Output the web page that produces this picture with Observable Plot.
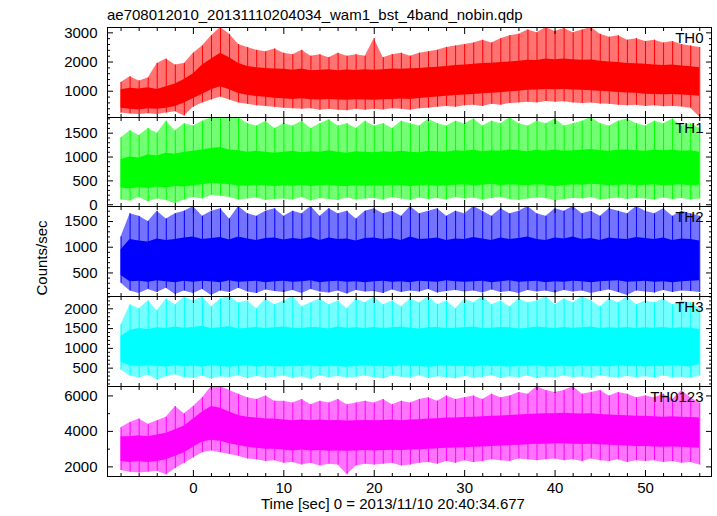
<!DOCTYPE html>
<html><head><meta charset="utf-8">
<script src="https://cdn.jsdelivr.net/npm/d3@7"></script>
<script src="https://cdn.jsdelivr.net/npm/@observablehq/plot@0.6"></script>
<style>
body{margin:0;background:#fff;}
#chart{position:relative;width:717px;height:516px;overflow:hidden;font-family:'Liberation Sans',Arial,Helvetica,sans-serif;color:#000;}
#chart svg{position:absolute;left:0;overflow:visible;}
.lbl{position:absolute;font-size:15px;line-height:13px;white-space:nowrap;}
</style></head><body>
<div id="chart"></div>
<script>
const title = "ae708012010_20131110204034_wam1_bst_4band_nobin.qdp";
const xLabel = "Time [sec] 0 = 2013/11/10 20:40:34.677";
const yLabel = "Counts/sec";
const panelNames = ["TH0","TH1","TH2","TH3","TH0123"];
const panelColors = ["#ff0000","#00ff00","#0000ff","#00ffff","#ff00ff"];
const xTickLabels = [0,10,20,30,40,50];
const yTickLabels = [[1000,2000,3000],[0,500,1000,1500],[500,1000,1500],[500,1000,1500,2000],[2000,4000,6000]];

const time = [-8,-7,-6,-5,-4,-3,-2,-1,0,1,2,3,4,5,6,7,8,9,10,11,12,13,14,15,16,17,18,19,20,21,22,23,24,25,26,27,28,29,30,31,32,33,34,35,36,37,38,39,40,41,42,43,44,45,46,47,48,49,50,51,52,53,54,55,56];

// per 1 s: spike max (hi), dense-band top, dense-band bottom, spike min (lo), counts/sec
const hi0 = [1300,1500,1350,1450,1950,2100,1900,1950, 2300,2550,2900,3180,2950,2600,2500,2400,2350,2450, 2300,2250,2400,2200,2250,2150,2300,2200,2250,2200, 2800,2150,2250,2300,2200,2300,2350,2400,2500,2550, 2600,2650,2750,2650,2800,2900,2950,3100,3000,3180, 3050,3150,3000,3100,3180,2950,2850,2900,2750,2800, 2700,2750,2650,2700,2600,2550,2500];
const top0 = [1050,1100,1080,1120,1060,1150,1250,1400, 1600,1900,2100,2300,2150,1950,1850,1800,1780,1760, 1750,1720,1760,1700,1720,1740,1700,1730,1710,1740, 1720,1740,1760,1750,1770,1780,1800,1820,1850,1880, 1900,1920,1950,1960,1980,2000,2030,2060,2050,2100, 2080,2100,2080,2060,2070,2030,2000,1980,1950,1940, 1920,1900,1880,1900,1860,1840,1800];
const bot0 = [420,380,360,400,380,420,480,600, 750,900,1050,1150,1050,920,860,820,790,760, 740,720,740,710,700,720,700,690,710,700, 690,710,720,730,720,750,780,800,830,850, 870,890,910,930,950,980,1000,1030,1040,1060, 1050,1060,1040,1030,1020,1000,980,960,940,930, 900,890,880,890,870,850,830];
const lo0 = [250,220,200,230,200,250,300,150, 450,600,700,800,700,600,550,500,480,450, 420,400,380,400,350,380,350,330,380,350, 380,360,400,380,350,400,420,450,480,450, 500,520,480,550,520,580,600,620,600,650, 620,640,600,580,600,560,550,520,500,520, 480,500,470,480,460,420,120];

const hi1 = [1400,1550,1450,1600,1500,1750,1550,1700, 1650,1750,1830,1830,1800,1830,1700,1650,1750,1600, 1700,1650,1750,1600,1700,1780,1650,1700,1600,1750, 1650,1700,1600,1750,1700,1650,1800,1700,1650,1750, 1700,1800,1650,1750,1700,1830,1700,1650,1750,1700, 1800,1650,1700,1750,1830,1700,1650,1750,1800,1700, 1650,1750,1700,1800,1650,1700,1600];
const top1 = [950,1000,980,1050,1020,1080,1060,1100, 1120,1150,1180,1200,1150,1130,1100,1120,1100,1080, 1100,1120,1090,1110,1100,1130,1100,1080,1110,1100, 1090,1110,1100,1120,1100,1090,1120,1110,1100,1130, 1120,1140,1110,1130,1120,1150,1130,1110,1140,1120, 1150,1120,1130,1140,1160,1130,1120,1140,1150,1130, 1120,1140,1130,1150,1120,1130,1100];
const bot1 = [350,330,360,340,370,350,380,370, 400,420,450,440,420,400,390,410,400,380, 400,390,410,380,400,410,390,380,400,390, 400,390,410,400,380,400,410,390,400,410, 420,400,410,430,400,420,410,400,420,410, 380,400,420,410,430,420,400,410,420,400, 410,420,400,410,420,400,410];
const lo1 = [100,80,150,60,120,90,20,100, 150,120,200,180,150,100,120,140,90,110, 120,100,150,80,130,110,90,140,100,120, 130,100,150,120,90,140,110,130,100,150, 120,140,100,130,150,110,90,120,140,130, 80,110,130,120,150,100,120,140,110,130, 120,100,140,110,130,100,120];

const hi2 = [1200,1650,1600,1500,1700,1550,1650,1700, 1790,1600,1700,1750,1550,1790,1650,1600,1700,1750, 1600,1700,1650,1790,1600,1750,1650,1700,1550,1700, 1750,1650,1700,1600,1790,1650,1700,1750,1600,1700, 1650,1790,1700,1600,1750,1650,1700,1790,1650,1600, 1750,1700,1790,1650,1700,1600,1750,1700,1650,1790, 1700,1650,1750,1600,1700,1650,1600];
const top2 = [950,1150,1120,1100,1160,1130,1150,1180, 1200,1150,1170,1190,1140,1200,1160,1130,1170,1180, 1140,1170,1150,1190,1130,1180,1150,1160,1120,1170, 1180,1150,1170,1130,1200,1150,1160,1180,1130,1160, 1150,1190,1160,1130,1180,1150,1170,1200,1150,1130, 1180,1160,1200,1150,1170,1130,1180,1160,1150,1190, 1170,1150,1180,1130,1160,1150,1120];
const bot2 = [450,330,340,320,350,330,310,340, 320,340,330,310,350,320,330,340,310,330, 340,320,330,350,310,330,340,320,330,310, 330,340,320,330,310,340,330,320,350,330, 320,330,340,310,330,350,320,330,340,310, 330,320,340,330,310,330,340,350,320,330, 340,320,330,310,330,340,350];
const lo2 = [300,150,100,180,120,200,80,150, 100,180,60,150,120,200,130,100,170,140, 120,160,100,180,130,110,150,90,160,130, 140,100,170,120,150,130,180,110,140,160, 130,150,110,170,120,140,100,160,130,150, 110,160,130,150,100,140,170,120,60,150, 130,110,160,120,150,140,120];

const hi3 = [1600,2100,2000,2200,1950,2250,2100,2300, 2200,2300,2050,2250,2310,2150,2200,2000,2250,2100, 2200,2310,2050,2150,2250,2100,2200,2000,2250,2150, 2300,2100,2200,2050,2250,2150,2310,2100,2200,2000, 2250,2150,2310,2100,2200,2050,2250,2150,2200,2310, 2100,2250,2150,2310,2200,2050,2250,2150,2300,2100, 2200,2150,2250,2100,2200,2150,2000];
const top3 = [1300,1450,1500,1480,1520,1500,1540,1510, 1530,1560,1500,1520,1550,1490,1510,1530,1500,1520, 1540,1510,1500,1530,1520,1490,1540,1510,1520,1500, 1530,1500,1520,1540,1510,1490,1520,1530,1500,1510, 1520,1540,1500,1510,1530,1520,1490,1510,1540,1520, 1500,1530,1510,1520,1540,1500,1520,1510,1530,1500, 1520,1510,1530,1500,1520,1510,1480];
const bot3 = [650,560,540,570,550,530,560,540, 550,530,560,540,520,550,560,530,550,540, 530,550,540,560,530,550,540,520,550,560, 540,550,530,560,550,540,520,550,560,540, 550,530,560,540,550,520,550,540,560,530, 540,550,530,560,540,550,530,560,540,550, 530,550,540,560,550,530,600];
const lo3 = [450,300,250,320,200,280,330,260, 240,300,220,280,260,310,230,290,250,270, 300,240,280,220,310,260,290,250,270,300, 260,230,300,270,250,310,240,280,260,230, 290,250,270,310,240,280,260,300,230,270, 250,300,260,280,240,310,270,250,290,260, 280,250,300,260,270,240,300];

const hi4 = [4200,4500,4700,4400,4600,4800,5400,5000, 5400,5900,6530,6530,6300,6100,5900,5800,6000,5700, 5700,5600,5800,5500,5700,5600,5800,5500,5600,5700, 5600,5800,5500,5700,5600,5800,5900,5700,6000,5800, 5900,6000,5800,6100,5900,6000,6200,6100,6530,6300, 6200,6300,6530,6100,6200,6300,6000,6200,6100,5900, 6000,5900,6100,5800,6300,5900,5600];
const top4 = [3700,3700,3750,3700,3800,3900,4100,4300, 4700,5100,5400,5300,5100,4900,4800,4750,4700,4700, 4650,4600,4650,4600,4650,4600,4620,4580,4600,4620, 4600,4620,4640,4600,4650,4660,4700,4720,4750,4760, 4780,4800,4820,4850,4870,4900,4920,4950,4980,5000, 5000,5020,5000,4980,5000,4950,4920,4900,4880,4850, 4850,4820,4800,4820,4800,4780,4750];
const bot4 = [2300,2250,2300,2250,2300,2400,2600,2800, 3100,3400,3500,3450,3300,3200,3100,3050,3000,3000, 2950,2900,2950,2900,2920,2880,2900,2880,2900,2920, 2900,2920,2940,2920,2950,2960,3000,3020,3050,3060, 3080,3100,3120,3150,3170,3200,3220,3250,3270,3280, 3300,3300,3280,3260,3280,3250,3220,3200,3180,3150, 3150,3120,3100,3120,3100,3080,3050];
const lo4 = [1800,1700,1650,1700,1750,1550,1900,2200, 2500,2800,2900,2800,2700,2600,2450,2400,2300,2350, 2200,2250,2100,2200,2050,2150,2100,1550,2050,2150, 2100,2150,2200,2050,2100,2200,2250,2150,2300,2200, 2350,2250,2300,2400,2350,2300,2450,2400,2350,2400, 2450,2350,2400,2300,2450,2350,2300,2400,2250,2350, 2300,2350,2250,2300,2200,2250,2100];

const series = [
  {hi:hi0, top:top0, bot:bot0, lo:lo0},
  {hi:hi1, top:top1, bot:bot1, lo:lo1},
  {hi:hi2, top:top2, bot:bot2, lo:lo2},
  {hi:hi3, top:top3, bot:bot3, lo:lo3},
  {hi:hi4, top:top4, bot:bot4, lo:lo4}
];
const yDomains = [[100,3183],[-37,1829],[42,1792],[36,2311],[1457,6532]];
const yMinorStep = [200,100,100,100,1000];
const xDomain = [-9.5,57.3];
const panelTops = [27,117,206,296,386];
const panelHeights = [90,89,90,90,90];

const chart = document.getElementById("chart");
const font = "'Liberation Sans', Arial, Helvetica, sans-serif";
const xMinor = d3.range(-8,57,2).filter(v => v % 10 !== 0);
const fmt = d => String(d);

function tickMarks(yMajor, yMinor) {
  const o = {fill:"none", label:null, stroke:"#000"};
  return [
    Plot.axisX({...o, anchor:"bottom", ticks:xTickLabels, tickSize:-6}),
    Plot.axisX({...o, anchor:"bottom", ticks:xMinor, tickSize:-3}),
    Plot.axisX({...o, anchor:"top", ticks:xTickLabels, tickSize:-6}),
    Plot.axisX({...o, anchor:"top", ticks:xMinor, tickSize:-3}),
    Plot.axisY({...o, anchor:"left", ticks:yMajor, tickSize:-6}),
    Plot.axisY({...o, anchor:"left", ticks:yMinor, tickSize:-3}),
    Plot.axisY({...o, anchor:"right", ticks:yMajor, tickSize:-6}),
    Plot.axisY({...o, anchor:"right", ticks:yMinor, tickSize:-3})
  ];
}

series.forEach((s, k) => {
  const rows = time.map((t, i) => ({t, hi:s.hi[i], top:s.top[i], bot:s.bot[i], lo:s.lo[i]}));
  const dom = yDomains[k];
  const yMajor = yTickLabels[k];
  const yMinor = d3.range(Math.ceil(dom[0]/yMinorStep[k])*yMinorStep[k], dom[1], yMinorStep[k]).filter(v => !yMajor.includes(v));
  const last = k === series.length - 1;
  const color = panelColors[k];
  const marks = [
    Plot.areaY(rows, {x:"t", y1:"lo", y2:"hi", fill:color, fillOpacity:0.55}),
    Plot.ruleX(rows, {x:"t", y1:"lo", y2:"hi", stroke:color, strokeWidth:1}),
    Plot.areaY(rows, {x:"t", y1:"bot", y2:"top", fill:color}),
    ...tickMarks(yMajor, yMinor),
    Plot.axisY({anchor:"left", ticks:yMajor, tickSize:0, tickPadding:10, label:null, tickFormat:fmt}),
    Plot.frame({stroke:"#000"}),
    Plot.text([panelNames[k]], {text:d => d, frameAnchor:"top-right", textAnchor:"end", lineAnchor:"top", dx:-8, dy:5, fontSize:15, fill:"#000"})
  ];
  if (last) marks.push(Plot.axisX({anchor:"bottom", ticks:xTickLabels, tickSize:0, tickPadding:6, label:null, tickFormat:fmt}));
  const svg = Plot.plot({
    width:717,
    height: panelHeights[k] + (last ? 40 : 0),
    marginLeft:107, marginRight:6, marginTop:0, marginBottom: last ? 40 : 0,
    x:{domain:xDomain},
    y:{domain:dom},
    style:{fontSize:"15px", fontFamily:font, background:"transparent", color:"#000", overflow:"visible"},
    marks
  });
  svg.style.top = panelTops[k] + "px";
  chart.appendChild(svg);
});

function addLabel(text, css) {
  const d = document.createElement("div");
  d.className = "lbl";
  d.textContent = text;
  Object.assign(d.style, css);
  chart.appendChild(d);
}
addLabel(title, {left:"107px", top:"8px"});
addLabel(xLabel, {left:"261px", top:"497px"});
addLabel(yLabel, {left:"41px", top:"258px", transform:"translate(-50%,-50%) rotate(-90deg)"});
</script></body></html>
